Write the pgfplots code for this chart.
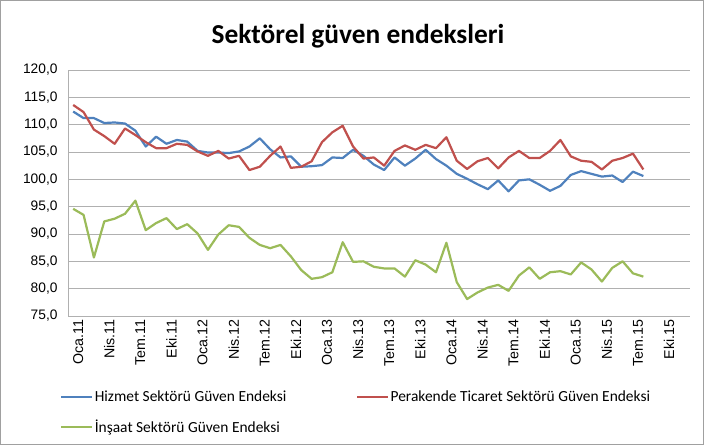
\documentclass[border=0pt]{standalone}
\usepackage{pgfplots}
\pgfplotsset{compat=1.18}
\usepackage{pgfplotstable}
\usepackage{fontspec}
\setmainfont{Carlito}
\newfontfamily\arialfont{Liberation Sans}
\definecolor{cblue}{HTML}{4F81BD}
\definecolor{cred}{HTML}{C0504D}
\definecolor{cgreen}{HTML}{9BBB59}
\definecolor{gridc}{HTML}{B0B0B0}
\definecolor{framec}{HTML}{A0A0A0}

\pgfplotstableread{
i hizmet perakende insaat
0 112.4 113.6 94.6
1 111.2 112.3 93.5
2 111.2 109.1 85.7
3 110.3 107.9 92.3
4 110.4 106.5 92.8
5 110.2 109.3 93.7
6 108.9 108.1 96.1
7 106.0 106.8 90.7
8 107.8 105.7 92.0
9 106.5 105.7 92.9
10 107.2 106.5 90.9
11 106.9 106.3 91.8
12 105.2 105.1 90.1
13 104.9 104.3 87.1
14 104.9 105.2 89.9
15 104.8 103.8 91.6
16 105.1 104.3 91.3
17 106.0 101.7 89.3
18 107.5 102.3 88.0
19 105.5 104.3 87.4
20 104.0 106.0 88.0
21 104.2 102.1 85.9
22 102.3 102.3 83.4
23 102.4 103.3 81.8
24 102.6 106.8 82.1
25 104.0 108.6 83.0
26 103.9 109.8 88.5
27 105.4 106.0 84.9
28 104.3 103.8 85.0
29 102.7 104.0 84.0
30 101.7 102.5 83.7
31 104.0 105.2 83.7
32 102.5 106.2 82.2
33 103.8 105.4 85.2
34 105.4 106.3 84.4
35 103.7 105.7 83.0
36 102.5 107.7 88.4
37 101.0 103.4 81.2
38 100.1 101.9 78.1
39 99.1 103.3 79.3
40 98.2 103.9 80.2
41 99.8 102.0 80.7
42 97.8 104.0 79.6
43 99.8 105.2 82.4
44 100.0 103.9 83.9
45 99.0 103.9 81.8
46 97.9 105.2 83.0
47 98.8 107.2 83.2
48 100.8 104.2 82.6
49 101.5 103.4 84.8
50 101.0 103.2 83.5
51 100.5 101.8 81.3
52 100.7 103.4 83.8
53 99.5 103.9 85.0
54 101.4 104.7 82.8
55 100.6 101.8 82.2
}\datatable

\begin{document}
\begin{tikzpicture}[x=1bp,y=1bp]
\useasboundingbox (0,0) rectangle (704,445);
\draw[color=framec, line width=0.75bp] (0.5,0.5) rectangle (703.5,444.5);
\node[font=\fontsize{27.5}{32}\selectfont\bfseries] at (358,409) {Sektörel güven endeksleri};
\begin{axis}[
  at={(68bp,129bp)}, anchor=south west,
  scale only axis, width=622bp, height=246bp,
  xmin=-0.5, xmax=59.5, ymin=75, ymax=120,
  ytick={75,80,...,120},
  xtick={0,3,...,57},
  xticklabels={Oca.11,Nis.11,Tem.11,Eki.11,Oca.12,Nis.12,Tem.12,Eki.12,Oca.13,Nis.13,Tem.13,Eki.13,Oca.14,Nis.14,Tem.14,Eki.14,Oca.15,Nis.15,Tem.15,Eki.15},
  x tick label style={rotate=90, anchor=east, font=\arialfont\fontsize{14.3}{16}\selectfont, yshift=-5bp},
  y tick label style={font=\arialfont\fontsize{13.8}{15}\selectfont, xshift=-7bp},
  /pgf/number format/.cd, fixed, fixed zerofill, precision=1, use comma, assume math mode=true,
  /pgfplots/.cd,
  axis x line*=bottom, axis y line*=left,
  axis line style={gridc, line width=0.75bp},
  major tick style={draw=none},
  ymajorgrids, grid style={gridc, line width=0.75bp},
  legend columns=2,
  legend cell align=left,
  legend image code/.code={\draw[#1, line width=2.2bp] (0bp,0bp) -- (31bp,0bp);},
  legend style={at={(axis description cs:-0.013,-0.297)}, anchor=north west, draw=none, fill=none,
    font=\fontsize{15.5}{18}\selectfont, inner sep=0pt,
    nodes={inner sep=1.5bp},
    /tikz/every even column/.append style={column sep=68bp},
    row sep=14bp},
  every axis plot/.append style={line width=2.2bp, line join=round, no markers},
]
\addplot[cblue] table[x=i, y=hizmet] {\datatable};
\addlegendentry{Hizmet Sektörü Güven Endeksi}
\addplot[cred] table[x=i, y=perakende] {\datatable};
\addlegendentry{Perakende Ticaret Sektörü Güven Endeksi}
\addplot[cgreen] table[x=i, y=insaat] {\datatable};
\addlegendentry{İnşaat Sektörü Güven Endeksi}
\end{axis}
\end{tikzpicture}
\end{document}
